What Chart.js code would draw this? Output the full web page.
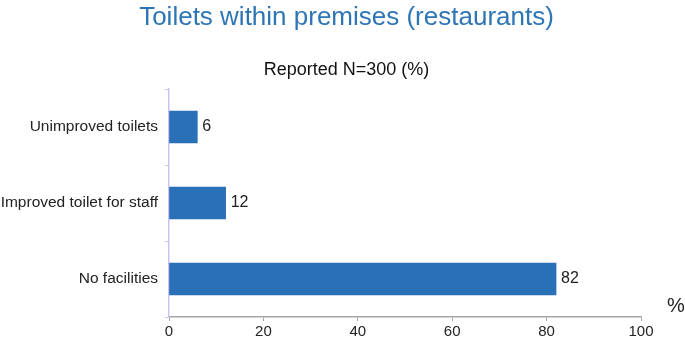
<!DOCTYPE html>
<html>
<head>
<meta charset="utf-8">
<script src="https://cdn.jsdelivr.net/npm/chart.js@4/dist/chart.umd.min.js"></script>
<style>
  html, body { margin: 0; padding: 0; background: #fff; }
  #wrap { width: 685px; height: 342px; }
</style>
</head>
<body>
<div id="wrap"><canvas id="toiletsChart"></canvas></div>
<script>
const categories = ["Unimproved toilets", "Improved toilet for staff", "No facilities"];
const values = [6, 12, 82];
const xTicks = [0, 20, 40, 60, 80, 100];
const titleText = "Toilets within premises (restaurants)";
const subtitleText = "Reported N=300 (%)";

const barColor = '#2970b6';
const fontFamily = "'Liberation Sans', Arial, sans-serif";

// titles centred on the whole canvas, value labels at bar ends, "%" unit
const chartText = {
  id: 'chartText',
  afterDatasetsDraw(chart) {
    const ctx = chart.ctx;
    const meta = chart.getDatasetMeta(0);
    const mid = chart.width / 2 + 4;
    ctx.save();
    ctx.textBaseline = 'middle';
    ctx.textAlign = 'center';
    ctx.fillStyle = '#2e75b6';
    ctx.font = `26px ${fontFamily}`;
    ctx.fillText(titleText, mid, 18);
    ctx.fillStyle = '#111';
    ctx.font = `18px ${fontFamily}`;
    ctx.fillText(subtitleText, mid, 70);

    ctx.fillStyle = '#222';
    ctx.textAlign = 'left';
    ctx.font = `16px ${fontFamily}`;
    meta.data.forEach((bar, i) => {
      ctx.fillText(String(values[i]), bar.x + 5, bar.y);
    });
    const xScale = chart.scales.x;
    ctx.font = `20px ${fontFamily}`;
    ctx.fillText('%', xScale.right + 26, xScale.top - 11);
    ctx.restore();
  }
};

const ctx = document.getElementById("toiletsChart");
const toiletsChart = new Chart(ctx, {
  type: "bar",
  data: {
    labels: categories,
    datasets: [{
      data: values,
      backgroundColor: barColor,
      borderWidth: 0,
      barThickness: 32
    }]
  },
  options: {
    indexAxis: 'y',
    responsive: true,
    maintainAspectRatio: false,
    animation: false,
    layout: { padding: { top: 89, right: 44, left: 0, bottom: 0 } },
    scales: {
      x: {
        min: 0,
        max: 100,
        afterBuildTicks: (scale) => { scale.ticks = xTicks.map(v => ({ value: v })); },
        afterFit: (scale) => { scale.height = 25; },
        border: { display: true, color: '#a6a6a6', width: 1.5 },
        grid: { display: true, drawOnChartArea: false, drawTicks: true, tickLength: 4, color: '#a6a6a6' },
        ticks: { color: '#222', font: { family: fontFamily, size: 15 }, padding: 2 }
      },
      y: {
        afterFit: (scale) => { scale.width = 169; },
        border: { display: true, color: '#c9c3f2', width: 1.5 },
        grid: { display: true, offset: true, drawOnChartArea: false, drawTicks: true, tickLength: 4, color: '#c9c3f2' },
        ticks: { color: '#222', font: { family: fontFamily, size: 15.5 }, padding: 7 }
      }
    },
    plugins: {
      legend: { display: false },
      tooltip: { enabled: false },
      title: { display: false },
      subtitle: { display: false }
    }
  },
  plugins: [chartText]
});
</script>
</body>
</html>
